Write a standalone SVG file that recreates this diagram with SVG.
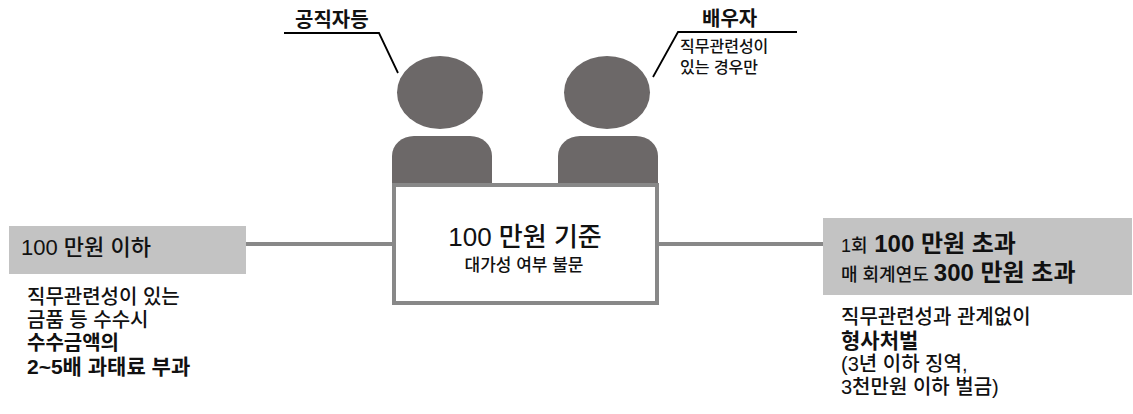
<svg xmlns="http://www.w3.org/2000/svg" width="1133" height="414" viewBox="0 0 1133 414">
<style>
  text { font-family: "Liberation Sans", "Noto Sans CJK KR", sans-serif; fill: #111; font-weight: 500; }
  .b { font-weight: bold; }
  .person { fill: #6c6868; }
  .callout { fill: none; stroke: #000; stroke-width: 1.8; }
  .conn { stroke: #888; stroke-width: 4; fill: none; }
  .tag { fill: #c3c3c3; }
</style>
<rect width="1133" height="414" fill="#fff"/>

<g id="connectors">
  <line class="conn" x1="246" y1="244" x2="393" y2="244"/>
  <line class="conn" x1="658" y1="244" x2="823" y2="244"/>
</g>

<g id="official">
  <ellipse class="person" cx="440" cy="92.5" rx="43" ry="36.5"/>
  <path class="person" d="M392,186 V156 A22,20 0 0 1 414,136 H470 A22,20 0 0 1 492,156 V186 Z"/>
  <polyline class="callout" points="284,33 379,33 398,73"/>
  <text class="b" x="295" y="27" font-size="20">공직자등</text>
</g>

<g id="spouse">
  <ellipse class="person" cx="607" cy="92.5" rx="43" ry="36.5"/>
  <path class="person" d="M558,186 V156 A22,20 0 0 1 580,136 H636 A22,20 0 0 1 658,156 V186 Z"/>
  <polyline class="callout" points="797,32 678,32 653,77"/>
  <text class="b" x="702" y="26" font-size="20">배우자</text>
  <text font-size="16"><tspan x="680" y="52">직무관련성이</tspan><tspan x="680" y="73">있는 경우만</tspan></text>
</g>

<g id="criterion">
  <rect x="394" y="185" width="263" height="118" fill="#fff" stroke="#888" stroke-width="4"/>
  <text text-anchor="middle"><tspan x="525" y="246" font-size="26">100 만원 기준</tspan><tspan x="524" y="271" font-size="17">대가성 여부 불문</tspan></text>
</g>

<g id="below">
  <rect class="tag" x="9" y="226" width="237" height="48"/>
  <text x="21" y="255" font-size="22">100 만원 이하</text>
  <text font-size="20"><tspan x="27" y="304">직무관련성이 있는</tspan><tspan x="27" y="327">금품 등 수수시</tspan><tspan class="b" x="27" y="350">수수금액의</tspan><tspan class="b" x="27" y="374" font-size="21">2~5배 과태료 부과</tspan></text>
</g>

<g id="above">
  <rect class="tag" x="823" y="218" width="309" height="77"/>
  <text font-size="18"><tspan x="841" y="252">1회</tspan><tspan class="b" font-size="24"> 100 만원 초과</tspan><tspan x="841" y="281">매 회계연도 </tspan><tspan class="b" font-size="24">300 만원 초과</tspan></text>
  <text font-size="20"><tspan x="841" y="324">직무관련성과 관계없이</tspan><tspan class="b" x="841" y="348" font-size="21">형사처벌</tspan><tspan x="841" y="371">(3년 이하 징역,</tspan><tspan x="841" y="394">3천만원 이하 벌금)</tspan></text>
</g>
</svg>
